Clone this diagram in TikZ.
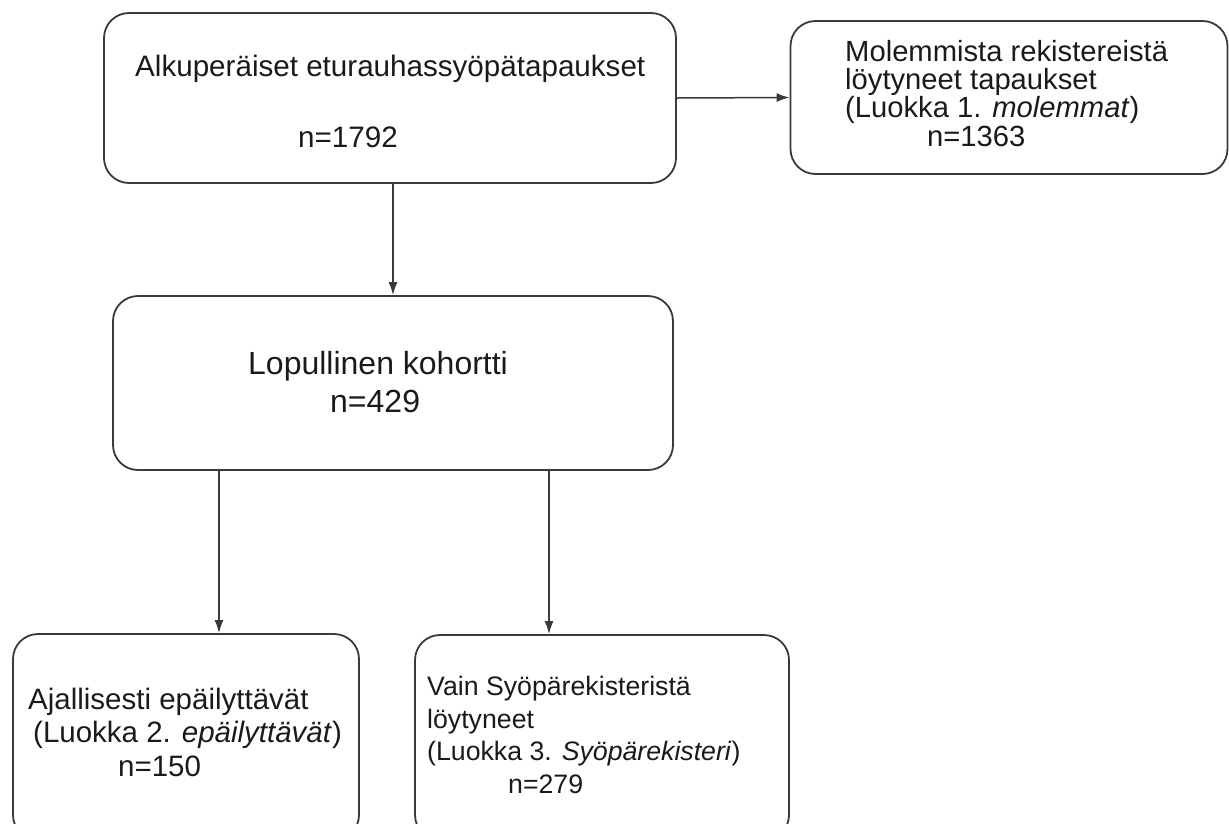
\documentclass[tikz,border=0pt]{standalone}
\usepackage{fontspec}
\setmainfont{Liberation Sans}
\usetikzlibrary{arrows.meta}
\definecolor{boxline}{HTML}{3A3A3A}
\definecolor{txt}{HTML}{1A1A1A}

\begin{document}
\begin{tikzpicture}[x=1pt,y=-1pt]

      \useasboundingbox (0,0) rectangle (1229,823);
      \clip (0,0) rectangle (1229,823);

      \begin{scope}[every node/.style={draw=boxline, line width=1.8pt, rounded corners=25pt, inner sep=0pt}]
        \node[minimum width=572pt, minimum height=170pt] (1) at (390,98)    {};
        \node[minimum width=437pt, minimum height=153pt] (2) at (1009,97.5) {};
        \node[minimum width=560pt, minimum height=174pt] (3) at (393,383)   {};
        \node[minimum width=346pt, minimum height=206pt] (4) at (186,737)   {};
        \node[minimum width=374pt, minimum height=205pt] (5) at (602,737.5) {};
      \end{scope}

      \begin{scope}[every node/.style={anchor=base west, inner sep=0pt, text=txt}]
        \begin{scope}[every node/.append style={font=\fontsize{29.6}{30}\selectfont}]
          \node (1a) at (135,76)  {Alkuperäiset eturauhassyöpätapaukset};
          \node (1b) at (298,147) {n=1792};
        \end{scope}
        \begin{scope}[every node/.append style={font=\fontsize{29.2}{30}\selectfont}]
          \node (2a) at (845,61)  {Molemmista rekistereistä};
          \node (2b) at (845,89)  {löytyneet tapaukset};
          \node (2c) at (845,117) {(Luokka 1. \textit{molemmat})};
          \node (2d) at (927,146) {n=1363};
        \end{scope}
        \begin{scope}[every node/.append style={font=\fontsize{32}{33}\selectfont}]
          \node (3a) at (248,374) {Lopullinen kohortti};
          \node (3b) at (330,412) {n=429};
        \end{scope}
        \begin{scope}[every node/.append style={font=\fontsize{29.5}{30}\selectfont}]
          \node (4a) at (28,709)  {Ajallisesti epäilyttävät};
          \node (4b) at (33,742)  {(Luokka 2. \textit{epäilyttävät})};
          \node (4c) at (118,776) {n=150};
        \end{scope}
        \begin{scope}[every node/.append style={font=\fontsize{26.7}{27}\selectfont}]
          \node (5a) at (427,695) {Vain Syöpärekisteristä};
          \node (5b) at (427,728) {löytyneet};
          \node (5c) at (427,760) {(Luokka 3. \textit{Syöpärekisteri})};
          \node (5d) at (508,793) {n=279};
        \end{scope}
      \end{scope}

      \begin{scope}[draw=boxline, line width=1.5pt, -{Latex[length=13pt,width=9pt]}]
        \draw (1.east) -- (2.west);
        \draw (3.north |- 1.south) -- (3.north);
        \draw ([xshift=-174pt]3.south) -- ([xshift=-174pt]3.south |- 4.north);
        \draw ([xshift=156pt]3.south) -- ([xshift=156pt]3.south |- 5.north);
      \end{scope}

    \end{tikzpicture}
\end{document}
